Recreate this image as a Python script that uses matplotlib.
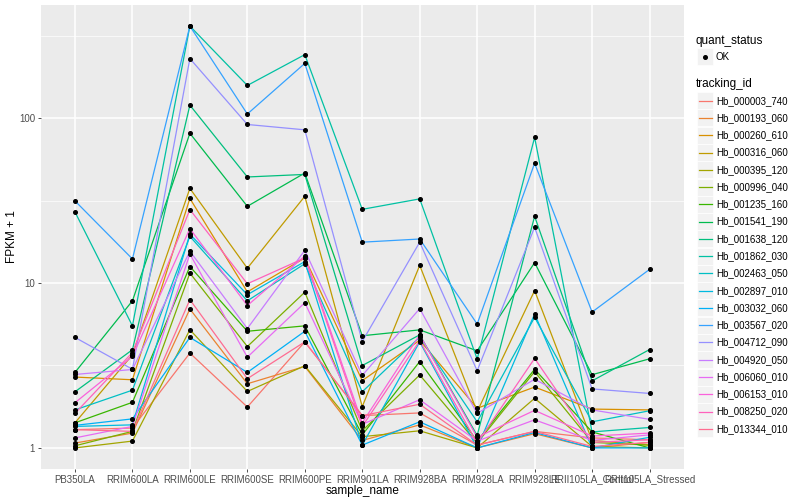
import matplotlib
matplotlib.use("Agg")
import matplotlib.pyplot as plt
import numpy as np
from matplotlib.patches import Rectangle
from matplotlib.lines import Line2D

plt.rcParams['font.family'] = ['Liberation Sans', 'DejaVu Sans']

# samples on the x axis
samples = ["PB350LA", "RRIM600LA", "RRIM600LE", "RRIM600SE", "RRIM600PE",
           "RRIM901LA", "RRIM928BA", "RRIM928LA", "RRIM928LE",
           "RRII105LA_Control", "RRII105LA_Stressed"]

tracking_ids = ["Hb_000003_740", "Hb_000193_060", "Hb_000260_610", "Hb_000316_060",
                "Hb_000395_120", "Hb_000996_040", "Hb_001235_160", "Hb_001541_190",
                "Hb_001638_120", "Hb_001862_030", "Hb_002463_050", "Hb_002897_010",
                "Hb_003032_060", "Hb_003567_020", "Hb_004712_090", "Hb_004920_050",
                "Hb_006060_010", "Hb_006153_010", "Hb_008250_020", "Hb_013344_010"]

# FPKM + 1 per gene, one value per sample
hb_000003_740 = [1.29, 1.32, 3.76, 1.77, 4.40, 1.57, 1.63, 1.04, 1.26, 1.15, 1.12]
hb_000193_060 = [1.07, 1.23, 6.96, 2.45, 3.12, 1.11, 1.38, 1.00, 1.22, 1.00, 1.08]
hb_000260_610 = [2.69, 2.59, 32.6, 8.84, 14.2, 2.56, 4.50, 1.74, 2.34, 1.72, 1.70]
hb_000316_060 = [1.42, 3.67, 37.5, 12.3, 33.6, 1.78, 12.8, 1.66, 9.00, 1.11, 1.04]
hb_000395_120 = [1.00, 1.10, 5.21, 2.20, 3.15, 1.17, 1.27, 1.00, 2.00, 1.02, 1.00]
hb_000996_040 = [1.03, 1.26, 11.5, 4.12, 8.80, 1.27, 2.77, 1.07, 2.90, 1.08, 1.04]
hb_001235_160 = [1.42, 1.89, 12.6, 5.10, 5.50, 1.20, 3.34, 1.10, 3.00, 1.25, 1.00]
hb_001541_190 = [2.87, 7.80, 81.0, 29.2, 46.5, 4.79, 5.20, 3.88, 13.3, 2.78, 3.47]
hb_001638_120 = [2.19, 3.94, 120., 44.0, 45.6, 3.16, 4.85, 1.19, 25.4, 2.55, 3.95]
hb_001862_030 = [27.0, 5.50, 362., 158., 243., 28.0, 32.4, 3.46, 76.5, 1.25, 1.33]
hb_002463_050 = [1.70, 2.24, 19.2, 7.80, 13.1, 2.19, 4.70, 1.44, 6.20, 1.44, 1.68]
hb_002897_010 = [1.35, 1.38, 19.8, 8.50, 13.5, 1.04, 4.40, 1.00, 6.50, 1.00, 1.16]
hb_003032_060 = [1.37, 1.50, 4.68, 2.87, 5.10, 1.04, 1.44, 1.00, 1.24, 1.00, 1.00]
hb_003567_020 = [31.5, 14.0, 362., 106., 215., 17.7, 18.5, 5.64, 53.3, 6.67, 12.1]
hb_004712_090 = [4.68, 3.00, 230., 91.6, 85.0, 4.42, 17.7, 2.94, 21.8, 2.28, 2.14]
hb_004920_050 = [2.79, 2.99, 15.6, 5.30, 15.8, 2.75, 7.00, 1.62, 2.61, 1.70, 1.49]
hb_006060_010 = [1.15, 1.35, 15.0, 3.55, 7.60, 1.39, 1.96, 1.10, 1.48, 1.11, 1.20]
hb_006153_010 = [1.88, 3.59, 21.4, 7.30, 14.6, 1.42, 4.85, 1.16, 1.69, 1.18, 1.23]
hb_008250_020 = [1.62, 3.79, 27.9, 9.90, 14.2, 1.35, 4.47, 1.07, 3.49, 1.08, 1.12]
hb_013344_010 = [1.29, 1.26, 7.93, 2.63, 4.40, 1.57, 1.84, 1.04, 1.26, 1.02, 1.08]

series = [hb_000003_740, hb_000193_060, hb_000260_610, hb_000316_060, hb_000395_120,
          hb_000996_040, hb_001235_160, hb_001541_190, hb_001638_120, hb_001862_030,
          hb_002463_050, hb_002897_010, hb_003032_060, hb_003567_020, hb_004712_090,
          hb_004920_050, hb_006060_010, hb_006153_010, hb_008250_020, hb_013344_010]

# ggplot2 default hue palette for 20 groups
colors = ["#F8766D", "#EA8331", "#D89000", "#C09B00", "#A3A500", "#7CAE00", "#39B600",
          "#00BB4E", "#00BF7D", "#00C1A3", "#00BFC4", "#00BAE0", "#00B0F6", "#35A2FF",
          "#9590FF", "#C77CFF", "#E76BF3", "#FA62DB", "#FF62BC", "#FF6C91"]

W, H = 800, 500
fig = plt.figure(figsize=(8, 5), dpi=100)
ax = fig.add_axes([40.5 / W, 1 - 469 / H, (684 - 40.5) / W, (469 - 5) / H])
ax.set_facecolor("#EBEBEB")
for s in ax.spines.values():
    s.set_visible(False)

x = np.arange(len(samples))
for vals, c in zip(series, colors):
    ax.plot(x, vals, color=c, lw=0.9, zorder=3)
for vals in series:
    ax.plot(x, vals, 'o', color='black', ms=2.6, zorder=4)

ax.set_yscale('log')
allv = np.log10(np.concatenate([np.array(v) for v in series]))
lo, hi = allv.min(), allv.max()
pad = 0.05 * (hi - lo)
ax.set_ylim(10 ** (lo - pad), 10 ** (hi + pad))
ax.set_xlim(-0.6, len(samples) - 0.4)

# grid
for v in [1, 10, 100]:
    ax.axhline(v, color='white', lw=1.1, zorder=1)
for v in [10 ** 0.5, 10 ** 1.5, 10 ** 2.5]:
    ax.axhline(v, color='white', lw=0.5, zorder=1)
for xi in x:
    ax.axvline(xi, color='white', lw=1.1, zorder=1)

ax.set_yticks([1, 10, 100])
ax.set_yticklabels(["1", "10", "100"])
ax.yaxis.set_minor_locator(matplotlib.ticker.NullLocator())
ax.set_xticks(x)
ax.set_xticklabels(samples)
ax.tick_params(axis='both', length=2.5, width=0.6, color='#333333',
               labelsize=7, labelcolor='#4D4D4D', pad=1.5)
ax.set_xlabel("sample_name", fontsize=8.5, va='center')
ax.set_ylabel("FPKM + 1", fontsize=8.5, va='center')
ax.xaxis.set_label_coords(0.5, -(491 - 469) / 464)
ax.yaxis.set_label_coords(-(40.5 - 12) / 643.5, 0.5)

# legends drawn by hand in ggplot style
def fx(px):
    return px / W

def fy(py):
    return 1 - py / H

fig.text(fx(696), fy(41), "quant_status", fontsize=8.5, va='center', ha='left')
fig.add_artist(Rectangle((fx(697), fy(65)), 16 / W, 17 / H, transform=fig.transFigure,
                         facecolor='#F2F2F2', edgecolor='white', lw=0.5))
fig.add_artist(Line2D([fx(705)], [fy(56.5)], marker='o', color='black', ms=2.6,
                      transform=fig.transFigure))
fig.text(fx(716), fy(56.5), "OK", fontsize=7, va='center', ha='left')

fig.text(fx(696), fy(84), "tracking_id", fontsize=8.5, va='center', ha='left')
for i, (tid, c) in enumerate(zip(tracking_ids, colors)):
    yc = 100.7 + i * 17.27
    fig.add_artist(Rectangle((fx(697), fy(yc + 8.5)), 16 / W, 17 / H,
                             transform=fig.transFigure, facecolor='#F2F2F2',
                             edgecolor='white', lw=0.5))
    fig.add_artist(Line2D([fx(698.5), fx(711.5)], [fy(yc), fy(yc)], color=c, lw=0.9,
                          transform=fig.transFigure))
    fig.text(fx(716), fy(yc), tid, fontsize=7, va='center', ha='left')

fig.savefig("out.png", dpi=100)
